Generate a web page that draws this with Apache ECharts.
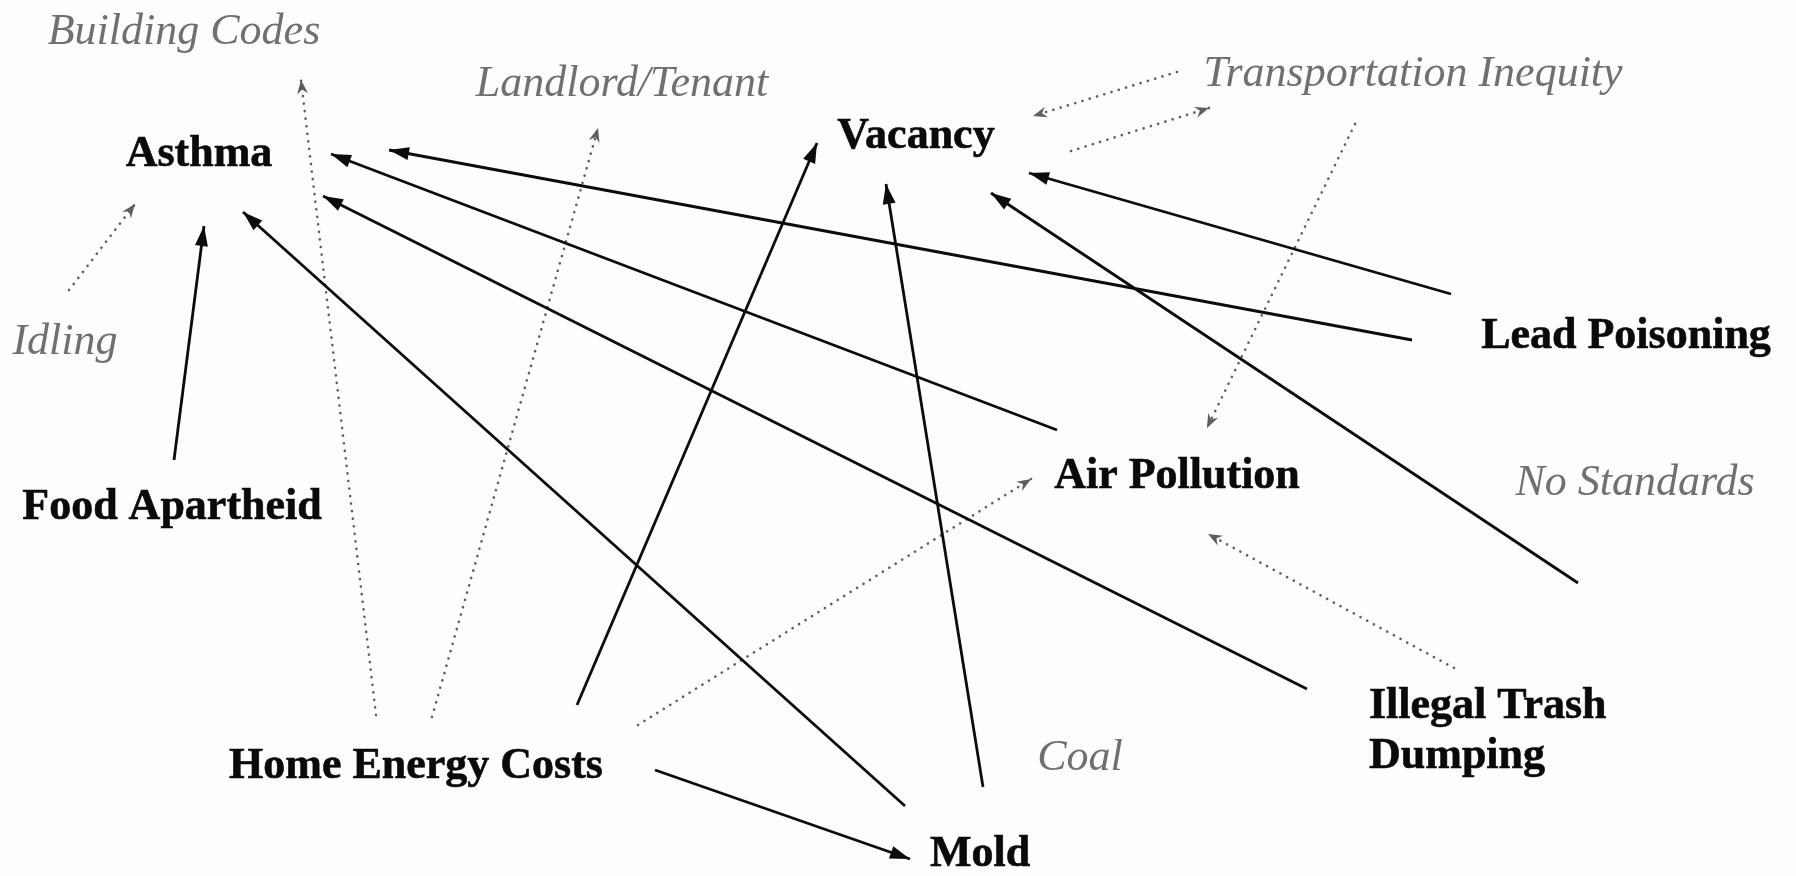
<!DOCTYPE html>
<html>
<head>
<meta charset="utf-8">
<title>Housing and health factors</title>
<script src="https://cdn.jsdelivr.net/npm/echarts@6/dist/echarts.min.js"></script>
<style>
  html, body { margin: 0; padding: 0; background: #fdfdfd; }
  #chart { width: 1796px; height: 876px; }
</style>
</head>
<body>
<div id="chart"></div>
<script>
// main factors (bold), label centres in page units
const mainFactors = ['Asthma', 'Vacancy', 'Lead Poisoning', 'Food Apartheid', 'Air Pollution', 'Home Energy Costs', 'Mold'];
const mainX = [199, 916, 1626, 172, 1177, 416, 980];
const mainY = [155, 137, 337, 508, 477, 767, 855];

// two-line factor, placed by its left edge
const trashLabel = 'Illegal Trash\nDumping';
const trashPos = [1369, 732];

// secondary factors (grey italic)
const sideFactors = ['Building Codes', 'Landlord/Tenant', 'Transportation Inequity', 'Idling', 'No Standards', 'Coal'];
const sideX = [184, 622, 1413, 65, 1635, 1080];
const sideY = [32, 84, 74, 342, 483, 758];

// solid arrows: [fromX, fromY, toX, toY]
const solidLinks = [
  [174, 460, 204, 226],   // Food Apartheid -> Asthma
  [905, 806, 243, 212],   // Mold -> Asthma
  [1307, 689, 323, 196],  // Illegal Trash -> Asthma
  [1057, 430, 331, 154],  // Air Pollution -> Asthma
  [1412, 340, 389, 150],  // Lead Poisoning -> Asthma
  [577, 705, 817, 143],   // Home Energy -> Vacancy
  [983, 787, 886, 184],   // Mold -> Vacancy
  [1578, 583, 991, 193],  // -> Vacancy
  [1451, 294, 1029, 173], // Lead Poisoning -> Vacancy
  [655, 770, 910, 859]    // Home Energy -> Mold
];

// dotted arrows
const dottedLinks = [
  [376, 715, 301, 80],    // Home Energy -> Building Codes
  [432, 717, 598, 128],   // Home Energy -> Landlord/Tenant
  [69, 290, 135, 204],    // Idling -> Asthma
  [638, 725, 1031, 479],  // Home Energy -> Air Pollution
  [1177, 72, 1033, 116],  // Transportation -> Vacancy
  [1071, 151, 1209, 108], // Vacancy -> Transportation
  [1355, 124, 1207, 428], // Transportation -> Air Pollution
  [1454, 668, 1208, 534]  // Illegal Trash -> Air Pollution
];

// arrowheads with the tip at the centre of the symbol box
const solidHead = 'path://M-20,-20 M20,20 M0,0 L6.5,20 L-6.5,20 Z';
const dottedHead = 'path://M-20,-20 M20,20 M0,0 L5.5,14 L0,9.5 L-5.5,14 Z';

const fontFamily = '"Liberation Serif", "DejaVu Serif", serif';

function toLines(list) {
  return list.map(function (l) {
    return { coords: [[l[0], l[1]], [l[2], l[3]]] };
  });
}

const boldLabel = {
  show: true,
  formatter: function (p) { return p.value[2]; },
  fontFamily: fontFamily,
  fontWeight: 'bold',
  fontSize: 44,
  color: '#0a0a0a',
  textBorderColor: '#0a0a0a',
  textBorderWidth: 0.6,
  opacity: 1
};

// label carriers: invisible points, fully opaque so the text keeps its colour
const carrier = { color: 'transparent', opacity: 1 };

let chart = echarts.init(document.getElementById('chart'));
let option = {
  backgroundColor: '#fdfdfd',
  animation: false,
  grid: { left: 0, right: 0, top: 0, bottom: 0 },
  xAxis: { type: 'value', min: 0, max: 1796, show: false },
  yAxis: { type: 'value', min: 0, max: 876, inverse: true, show: false },
  series: [{
    type: 'lines',
    coordinateSystem: 'cartesian2d',
    silent: true,
    symbol: ['none', dottedHead],
    symbolSize: [1, 40],
    lineStyle: { color: '#5e5e5e', width: 2.6, type: [0.1, 7.5], cap: 'round', opacity: 1 },
    data: toLines(dottedLinks)
  }, {
    type: 'lines',
    coordinateSystem: 'cartesian2d',
    silent: true,
    symbol: ['none', solidHead],
    symbolSize: [1, 40],
    lineStyle: { color: '#0c0c0c', width: 2.8, opacity: 1 },
    data: toLines(solidLinks)
  }, {
    type: 'scatter',
    silent: true,
    symbolSize: 0,
    itemStyle: carrier,
    label: Object.assign({ position: 'inside' }, boldLabel),
    data: mainFactors.map(function (n, i) { return [mainX[i], mainY[i], n]; })
  }, {
    type: 'scatter',
    silent: true,
    symbolSize: 0,
    itemStyle: carrier,
    label: Object.assign({ position: 'right', distance: 0, align: 'left', lineHeight: 50 }, boldLabel),
    data: [[trashPos[0], trashPos[1], trashLabel]]
  }, {
    type: 'scatter',
    silent: true,
    symbolSize: 0,
    itemStyle: carrier,
    label: {
      show: true,
      position: 'inside',
      formatter: function (p) { return p.value[2]; },
      fontFamily: fontFamily,
      fontStyle: 'italic',
      fontSize: 44,
      color: '#707070',
      textBorderWidth: 0,
      opacity: 1
    },
    data: sideFactors.map(function (n, i) { return [sideX[i], sideY[i], n]; })
  }]
};
chart.setOption(option);
</script>
</body>
</html>
